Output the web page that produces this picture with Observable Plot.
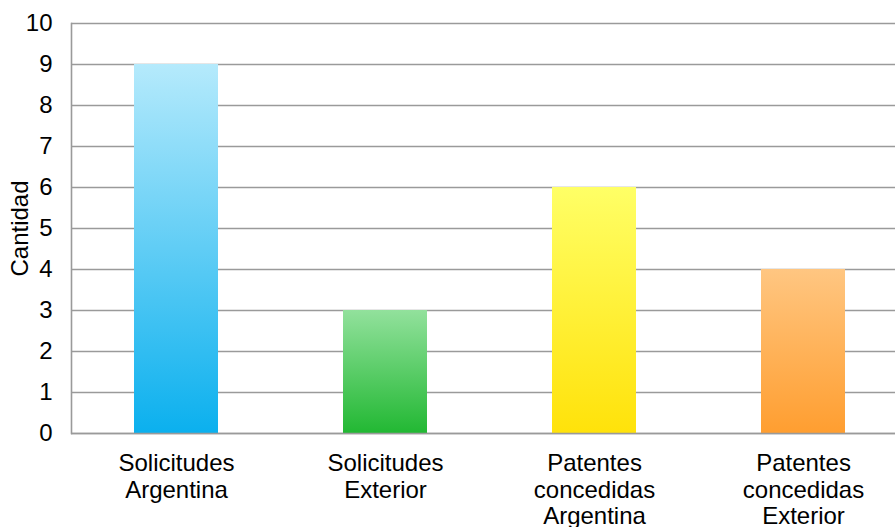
<!DOCTYPE html>
<html>
<head>
<meta charset="utf-8">
<script src="https://cdn.jsdelivr.net/npm/d3@7"></script>
<script src="https://cdn.jsdelivr.net/npm/@observablehq/plot@0.6"></script>
<style>
  html, body { margin: 0; padding: 0; background: #fff; overflow: hidden; width: 895px; height: 527px; }
  #chart svg { display: block; max-width: none !important; height: 527px !important; }
</style>
</head>
<body>
<div id="chart"></div>
<script>
const categories = ["Solicitudes Argentina", "Solicitudes Exterior", "Patentes concedidas Argentina", "Patentes concedidas Exterior"];
const tickLabels = ["Solicitudes\nArgentina", "Solicitudes\nExterior", "Patentes\nconcedidas\nArgentina", "Patentes\nconcedidas\nExterior"];
const values = [9, 3, 6, 4];
const yTicks = [0, 1, 2, 3, 4, 5, 6, 7, 8, 9, 10];
const gradTop = ["#b5eafc", "#92e19c", "#ffff66", "#ffc681"];
const gradBottom = ["#0bb0ee", "#22b833", "#ffe20a", "#ff9e30"];
const yLabel = "Cantidad";

const data = categories.map((c, i) => ({ cat: c, value: values[i], grad: `url(#grad${i})` }));

const chart = Plot.plot({
  width: 908,
  height: 527,
  marginLeft: 71,
  marginRight: 0,
  marginTop: 23,
  marginBottom: 94,
  style: { fontFamily: "'Liberation Sans', Arial, sans-serif", fontSize: "24px", color: "#000", background: "#fff", maxWidth: "none" },
  x: { domain: categories, paddingInner: 0.598, paddingOuter: 0.3, label: null },
  y: { domain: [0, 10], ticks: yTicks, label: null },
  marks: [
    Plot.ruleY(yTicks, { stroke: "#9a9a9a", strokeWidth: 1.6 }),
    ...data.map(d => Plot.barY([d], { x: "cat", y: "value", fill: d.grad })),
    Plot.ruleY([0], { stroke: "#9a9a9a", strokeWidth: 1.6 }),
    Plot.frame({ anchor: "left", stroke: "#9a9a9a", strokeWidth: 1.6 }),
    Plot.axisY({ ticks: yTicks, tickSize: 0, tickPadding: 19, fontSize: 24, label: null }),
    Plot.axisX({ tickSize: 0, tickPadding: 19, fontSize: 24, lineHeight: 1.1, tickFormat: (c) => tickLabels[categories.indexOf(c)], label: null }),
    Plot.text([yLabel], { frameAnchor: "left", textAnchor: "middle", dx: -51, rotate: -90, fontSize: 24, fill: "#000" })
  ]
});

const svg = d3.select(chart);
const defs = svg.insert("defs", ":first-child");
gradTop.forEach((top, i) => {
  const g = defs.append("linearGradient").attr("id", `grad${i}`).attr("x1", 0).attr("y1", 0).attr("x2", 0).attr("y2", 1);
  g.append("stop").attr("offset", "0%").attr("stop-color", top);
  g.append("stop").attr("offset", "100%").attr("stop-color", gradBottom[i]);
});

document.getElementById("chart").appendChild(chart);
</script>
</body>
</html>
